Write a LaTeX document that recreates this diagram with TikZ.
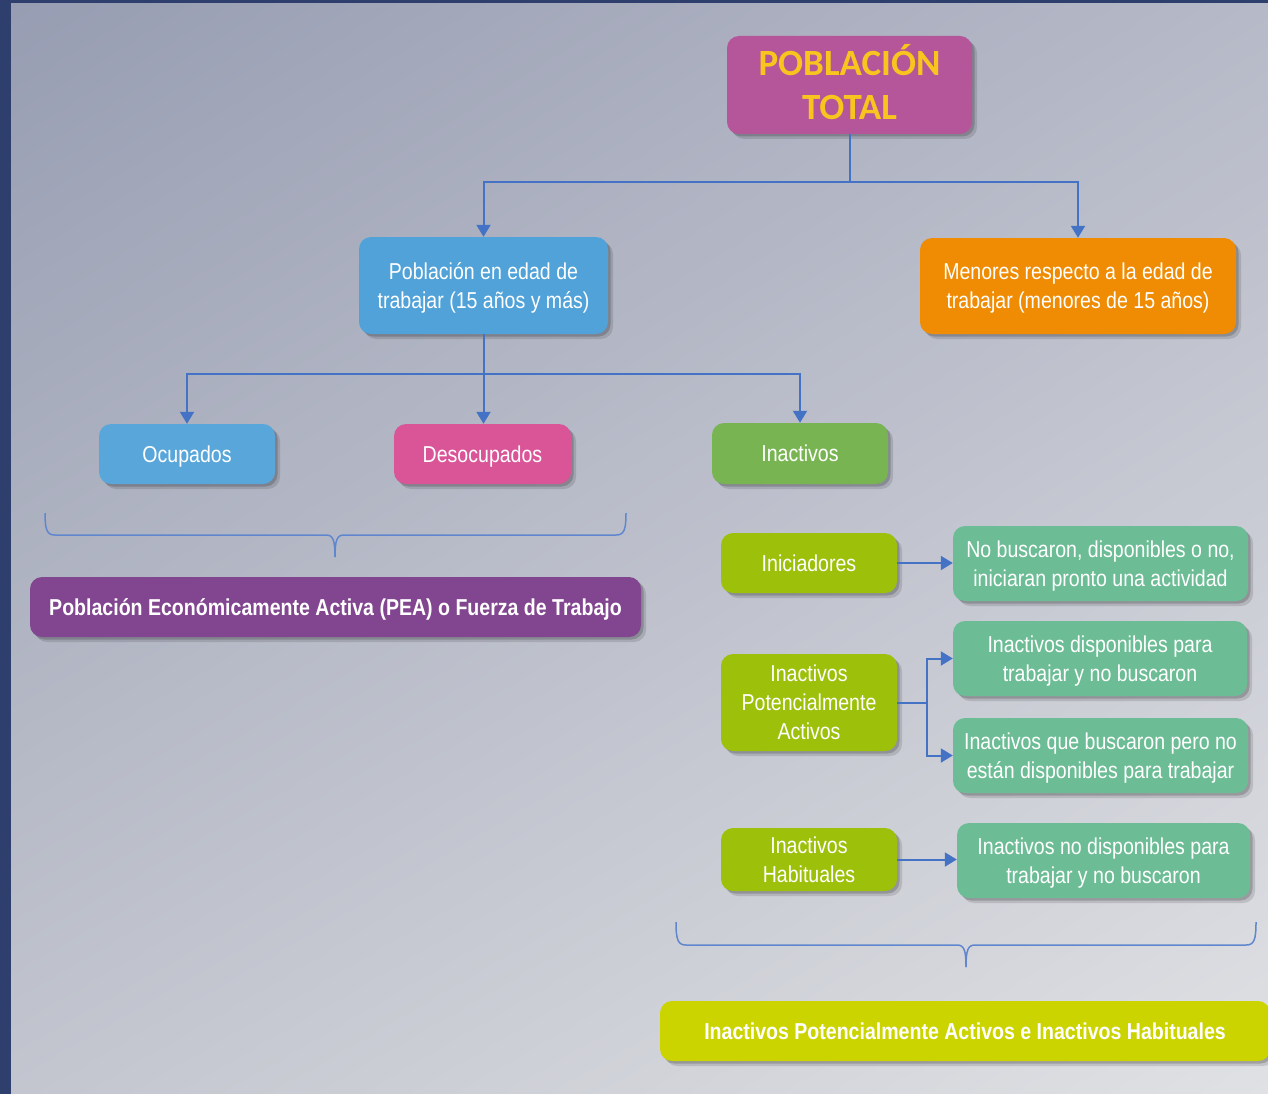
\documentclass[tikz,border=0pt]{standalone}
\usepackage{fontspec}
\setmainfont[FakeStretch=0.85]{Liberation Sans}
\newfontfamily\titlefont{Carlito}
\usetikzlibrary{shadows,shadings,arrows.meta}
\definecolor{bordercol}{HTML}{2F3F6D}
\definecolor{bgA}{HTML}{979DB2}
\definecolor{bgB}{HTML}{B6B9C7}
\definecolor{bgC}{HTML}{C3C6CF}
\definecolor{bgD}{HTML}{E0E1E4}
\definecolor{titlefill}{HTML}{B5559A}
\definecolor{titletext}{HTML}{F7C51E}
\definecolor{bluefill}{HTML}{50A2D8}
\definecolor{orangefill}{HTML}{EF8C03}
\definecolor{pinkfill}{HTML}{DA5598}
\definecolor{greenfill}{HTML}{78B552}
\definecolor{peafill}{HTML}{82458F}
\definecolor{limefill}{HTML}{9DC10B}
\definecolor{tealfill}{HTML}{6CBD95}
\definecolor{yellowfill}{HTML}{CCD400}
\definecolor{conncol}{HTML}{4472C4}
\tikzset{
  box/.style={draw=none, rounded corners=12pt, align=center, text=white,
    inner sep=0pt, text depth=-3pt, font=\fontsize{23}{29}\selectfont,
    drop shadow={shadow xshift=5pt, shadow yshift=-5pt, opacity=0.12, fill=black},
    drop shadow={shadow xshift=2.5pt, shadow yshift=-2.5pt, opacity=0.18, fill=black}},
  boldbox/.style={box, font=\bfseries\fontsize{23}{29}\selectfont},
  conn/.style={draw=conncol, line width=2pt},
  arr/.style={conn, -{Triangle[width=14pt,length=12pt]}},
  bracecol/.style={draw=conncol!85!white, line width=1.5pt}
}
\begin{document}
\begin{tikzpicture}[x=1pt,y=-1pt]
\useasboundingbox (0,0) rectangle (1268,1094);
\fill[bordercol] (0,0) rectangle (1268,1094);
\shade[upper left=bgA, upper right=bgB, lower left=bgC, lower right=bgD] (11,4) rectangle (1268,1094);

% nodes
\node[box, fill=titlefill, text=titletext, minimum width=245pt, minimum height=98pt, text depth=6pt,
  font=\titlefont\bfseries\fontsize{37}{44}\selectfont] (pt) at (849.5,85) {POBLACIÓN\\TOTAL};
\node[box, fill=bluefill, minimum width=249pt, minimum height=97pt] (pet) at (483.5,285.5)
  {Población en edad de\\trabajar (15 años y más)};
\node[box, fill=orangefill, minimum width=316pt, minimum height=96pt] (men) at (1078,286)
  {Menores respecto a la edad de\\trabajar (menores de 15 años)};
\node[box, fill=bluefill!95!white, minimum width=176pt, minimum height=60pt] (ocup) at (187,454) {Ocupados};
\node[box, fill=pinkfill, minimum width=177pt, minimum height=60pt] (desoc) at (482.5,454) {Desocupados};
\node[box, fill=greenfill, minimum width=176pt, minimum height=61pt] (inac) at (800,453.5) {Inactivos};
\node[boldbox, fill=peafill, minimum width=611pt, minimum height=60pt] (pea) at (335.5,607)
  {Población Económicamente Activa (PEA) o Fuerza de Trabajo};

\node[box, fill=limefill, minimum width=176pt, minimum height=60pt] (ini) at (809,563) {Iniciadores};
\node[box, fill=tealfill, minimum width=295pt, minimum height=75pt] (nob) at (1100.5,563.5)
  {No buscaron, disponibles o no,\\iniciaran pronto una actividad};
\node[box, fill=limefill, minimum width=176pt, minimum height=97pt] (ipa) at (809,702.5)
  {Inactivos\\Potencialmente\\Activos};
\node[box, fill=tealfill, minimum width=294pt, minimum height=75pt] (idisp) at (1100,658.5)
  {Inactivos disponibles para\\trabajar y no buscaron};
\node[box, fill=tealfill, minimum width=295pt, minimum height=75pt] (ibusc) at (1100.5,755.5)
  {Inactivos que buscaron pero no\\están disponibles para trabajar};
\node[box, fill=limefill, minimum width=176pt, minimum height=63pt] (ih) at (809,859.5)
  {Inactivos\\Habituales};
\node[box, fill=tealfill, minimum width=293pt, minimum height=75pt] (inod) at (1103.5,860.5)
  {Inactivos no disponibles para\\trabajar y no buscaron};
\node[boldbox, fill=yellowfill, minimum width=610pt, minimum height=60pt] (iah) at (965,1031)
  {Inactivos Potencialmente Activos e Inactivos Habituales};

% connectors
\draw[conn] (pt.south) -- ++(0,48) coordinate (j1);
\draw[arr] (j1) -| (pet.north);
\draw[arr] (j1) -| (men.north);
\draw[arr] (pet.south) -- (pet.south |- desoc.north);
\draw[conn] (pet.south) -- ++(0,40) coordinate (j2);
\draw[arr] (j2) -| (ocup.north);
\draw[arr] (j2) -| (inac.north);
\draw[arr] (ini.east) -- (ini.east -| nob.west);
\draw[conn] (ipa.east) -- ++(30,0) coordinate (j3);
\draw[arr] (j3) |- (idisp.west);
\draw[arr] (j3) |- (ibusc.west);
\draw[arr] (ih.east) -- (ih.east -| inod.west);

% braces
\draw[bracecol] (45,513) .. controls (45,530) and (47,535) .. (55,535) -- (326,535)
  .. controls (333,535) and (335,540) .. (335,557);
\draw[bracecol] (335,557) .. controls (335,540) and (337,535) .. (344,535) -- (616,535)
  .. controls (624,535) and (626,530) .. (626,513);
\draw[bracecol] (676,922) .. controls (676,940) and (678,945) .. (686,945) -- (957,945)
  .. controls (964,945) and (966,950) .. (966,967);
\draw[bracecol] (966,967) .. controls (966,950) and (968,945) .. (975,945) -- (1246,945)
  .. controls (1254,945) and (1256,940) .. (1256,922);
\end{tikzpicture}
\end{document}
